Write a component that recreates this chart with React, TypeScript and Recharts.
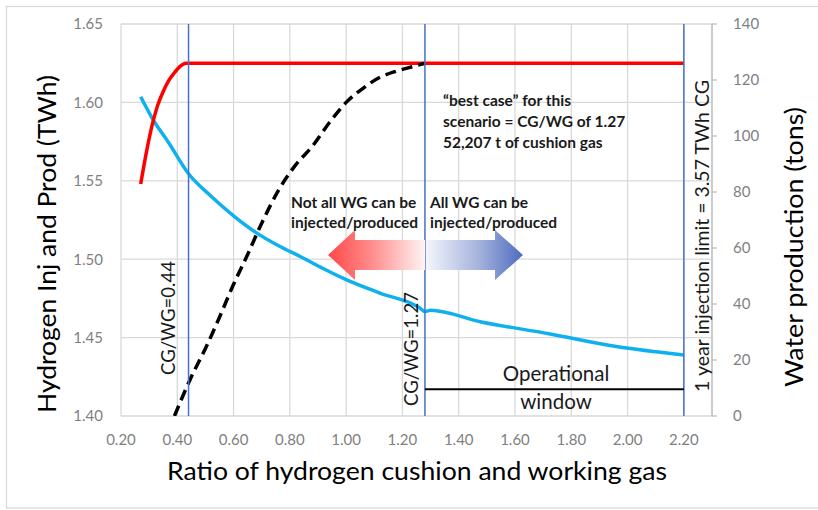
import React from "react";
import {
  ComposedChart,
  Line,
  XAxis,
  YAxis,
  CartesianGrid,
  ReferenceLine,
} from "recharts";

// ---- data ----
const xTicks = [0.2, 0.4, 0.6, 0.8, 1.0, 1.2, 1.4, 1.6, 1.8, 2.0, 2.2];
const leftTicks = [1.4, 1.45, 1.5, 1.55, 1.6, 1.65];
const rightTicks = [0, 20, 40, 60, 80, 100, 120, 140];

// Hydrogen injected and produced (TWh) – red
const injRatio = [0.27, 0.29, 0.31, 0.33, 0.35, 0.37, 0.39, 0.41, 0.43, 0.45, 2.2];
const injTWh = [1.548, 1.568, 1.585, 1.598, 1.607, 1.614, 1.619, 1.623, 1.625, 1.625, 1.625];

// Hydrogen (black dashed) TWh
const dashRatio = [0.39, 0.45, 0.5, 0.55, 0.6, 0.65, 0.7, 0.76, 0.82, 0.88, 0.94, 1.0, 1.06, 1.12, 1.18, 1.24, 1.28];
const dashTWh = [1.4, 1.425, 1.443, 1.463, 1.484, 1.503, 1.523, 1.544, 1.56, 1.572, 1.587, 1.6, 1.609, 1.616, 1.62, 1.623, 1.625];

// Water production (tons) – blue
const waterRatio = [0.27, 0.31, 0.37, 0.44, 0.52, 0.6, 0.68, 0.76, 0.84, 0.92, 1.0, 1.12, 1.26, 1.28, 1.3, 1.48, 1.72, 1.96, 2.2];
const waterTons = [114, 106.5, 97.5, 86.5, 78.5, 71.5, 65.5, 60.8, 56.8, 52.6, 48.7, 43.9, 38.7, 37.3, 37.8, 33.6, 29.4, 24.8, 21.8];

// Reference ratios
const cgwgLow = 0.44;
const cgwgBest = 1.28;
const injLimit = 2.2;
const opWindowLevel = 1.417;

const injData = injRatio.map((x, i) => ({ x, y: injTWh[i] }));
const dashData = dashRatio.map((x, i) => ({ x, y: dashTWh[i] }));
const waterData = waterRatio.map((x, i) => ({ x, w: waterTons[i] }));

const FONT = "Lato, 'Open Sans', sans-serif";
const tickStyle = { fontSize: 15, fill: "#7f7f7f", fontFamily: FONT };

export default function App() {
  return (
    <div style={{ position: "absolute", left: 0, top: 0, width: 818, height: 510, background: "#fff" }}>
      <ComposedChart
        width={818}
        height={510}
        margin={{ top: 24, right: 0, bottom: 0, left: 0 }}
      >
        <CartesianGrid yAxisId="left" stroke="#d9d9d9" strokeWidth={1.3} />
        <XAxis
          type="number"
          dataKey="x"
          domain={[0.2, 2.3]}
          ticks={xTicks}
          interval={0}
          allowDataOverflow
          tickFormatter={(v: number) => v.toFixed(2)}
          axisLine={false}
          tickLine={false}
          tickSize={0}
          tickMargin={18}
          height={94}
          tick={tickStyle}
        />
        <YAxis
          yAxisId="left"
          type="number"
          domain={[1.4, 1.65]}
          ticks={leftTicks}
          interval={0}
          allowDataOverflow
          tickFormatter={(v: number) => v.toFixed(2)}
          axisLine={false}
          tickLine={false}
          tickSize={0}
          tickMargin={18}
          width={121}
          tick={tickStyle}
        />
        <YAxis
          yAxisId="right"
          orientation="right"
          type="number"
          domain={[0, 140]}
          ticks={rightTicks}
          interval={0}
          axisLine={{ stroke: "#bfbfbf", strokeWidth: 1.3 }}
          tickLine={{ stroke: "#bfbfbf", strokeWidth: 1.3 }}
          tickSize={5}
          tickMargin={16}
          width={106}
          tick={{ ...tickStyle, textAnchor: "start" }}
        />
        <Line
          yAxisId="right"
          data={waterData}
          dataKey="w"
          type="monotone"
          stroke="#0fb0ee"
          strokeWidth={3.5}
          dot={false}
          isAnimationActive={false}
        />
        <Line
          yAxisId="left"
          data={injData}
          dataKey="y"
          type="monotone"
          stroke="#ff0000"
          strokeWidth={3.5}
          dot={false}
          isAnimationActive={false}
        />
        <Line
          yAxisId="left"
          data={dashData}
          dataKey="y"
          type="monotone"
          stroke="#000"
          strokeWidth={3.5}
          strokeDasharray="11 6"
          dot={false}
          isAnimationActive={false}
        />
        <ReferenceLine yAxisId="left" x={cgwgLow} stroke="#4472c4" strokeWidth={1.5} />
        <ReferenceLine yAxisId="left" x={cgwgBest} stroke="#4472c4" strokeWidth={1.5} />
        <ReferenceLine yAxisId="left" x={injLimit} stroke="#4472c4" strokeWidth={1.5} />
        <ReferenceLine
          yAxisId="left"
          segment={[
            { x: cgwgBest, y: opWindowLevel },
            { x: injLimit, y: opWindowLevel },
          ]}
          stroke="#000"
          strokeWidth={2}
        />
      </ComposedChart>
      <svg
        width={818}
        height={510}
        style={{ position: "absolute", left: 0, top: 0, pointerEvents: "none" }}
        fontFamily={FONT}
      >
        <defs>
          <linearGradient id="redGrad" x1="0" x2="1" y1="0" y2="0">
            <stop offset="0" stopColor="#ff4848" />
            <stop offset="0.45" stopColor="#ff8c8c" />
            <stop offset="1" stopColor="#fff4f4" />
          </linearGradient>
          <linearGradient id="blueGrad" x1="0" x2="1" y1="0" y2="0">
            <stop offset="0" stopColor="#f4f6fc" />
            <stop offset="0.55" stopColor="#a4b2dc" />
            <stop offset="1" stopColor="#4d6cbf" />
          </linearGradient>
        </defs>
        <rect x={6.5} y={6.5} width={830} height={501.5} fill="none" stroke="#d9d9d9" strokeWidth={1.3} />

        {/* arrows */}
        <polygon
          points="328,255 355,230 355,240 425,240 425,270 355,270 355,280"
          fill="url(#redGrad)"
        />
        <polygon
          points="426,240 495,240 495,230 523,255 495,280 495,270 426,270"
          fill="url(#blueGrad)"
        />

        {/* axis titles */}
        <text x={417} y={470} textAnchor="middle" dominantBaseline="central" fontSize={25} fill="#000"
          textLength={500} lengthAdjust="spacingAndGlyphs">
          Ratio of hydrogen cushion and working gas
        </text>
        <text transform="translate(46,244) rotate(-90)" textAnchor="middle" dominantBaseline="central" fontSize={25} fill="#000"
          textLength={338} lengthAdjust="spacingAndGlyphs">
          Hydrogen Inj and Prod (TWh)
        </text>
        <text transform="translate(793,247) rotate(-90)" textAnchor="middle" dominantBaseline="central" fontSize={25} fill="#000"
          textLength={280} lengthAdjust="spacingAndGlyphs">
          Water production (tons)
        </text>

        {/* vertical line labels */}
        <text transform="translate(168,318) rotate(-90)" textAnchor="middle" dominantBaseline="central" fontSize={18.5} fill="#1a1a1a">
          CG/WG=0.44
        </text>
        <text transform="translate(411,349) rotate(-90)" textAnchor="middle" dominantBaseline="central" fontSize={18.5} fill="#1a1a1a">
          CG/WG=1.27
        </text>
        <text transform="translate(701,236) rotate(-90)" textAnchor="middle" dominantBaseline="central" fontSize={19.5} fill="#1a1a1a">
          1 year injection limit = 3.57 TWh CG
        </text>

        {/* annotations */}
        <g fontSize={15.5} fontWeight="bold" fill="#1a1a1a" dominantBaseline="central">
          <text x={443} y={100}>“best case” for this</text>
          <text x={443} y={121}>scenario = CG/WG of 1.27</text>
          <text x={443} y={142}>52,207 t of cushion gas</text>
          <text x={291} y={202}>Not all WG can be</text>
          <text x={291} y={222}>injected/produced</text>
          <text x={430} y={202}>All WG can be</text>
          <text x={430} y={222}>injected/produced</text>
        </g>
        <g fontSize={20.5} fill="#1a1a1a" textAnchor="middle" dominantBaseline="central">
          <text x={556} y={373}>Operational</text>
          <text x={556} y={401}>window</text>
        </g>
      </svg>
    </div>
  );
}
